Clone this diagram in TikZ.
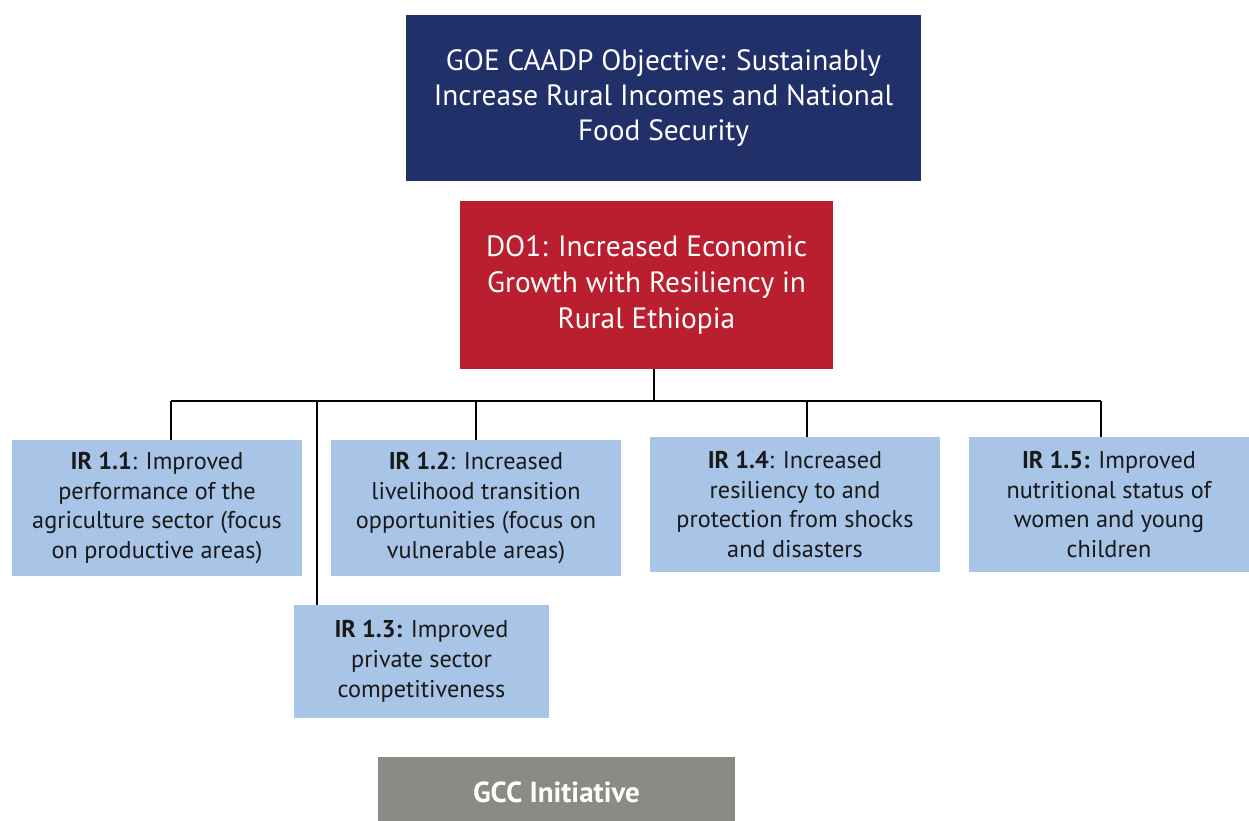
\documentclass[tikz,border=0pt]{standalone}
\usepackage{fontspec}
\setmainfont{PT Sans}
\usetikzlibrary{calc}
\definecolor{goeblue}{HTML}{22306A}
\definecolor{dored}{HTML}{BA1F2F}
\definecolor{irblue}{HTML}{A8C4E6}
\definecolor{gccgray}{HTML}{8B8A85}
\begin{document}
\begin{tikzpicture}[x=0.02cm, y=-0.02cm,
        goal/.style={rectangle, fill=goeblue, text=white, align=center, font={\fontsize{16.7}{20}\selectfont}, minimum width=10.3cm, minimum height=3.32cm},
        objective/.style={rectangle, fill=dored, text=white, align=center, font={\fontsize{16.7}{20.5}\selectfont}, minimum width=7.46cm, minimum height=3.36cm},
        result/.style={rectangle, fill=irblue, text=black!90, align=center, font={\fontsize{13.8}{17}\selectfont}, minimum width=5.8cm, minimum height=2.72cm, inner sep=0pt},
        initiative/.style={rectangle, fill=gccgray, text=white, font={\bfseries\fontsize{16.5}{19}\selectfont}, minimum width=7.14cm, minimum height=1.4cm},
        link/.style={line width=1.3pt, black}
    ]
        \useasboundingbox (0,0) rectangle (1249,821);
        \clip (0,0) rectangle (1249,821);

        % Obiettivi
        \node[goal] (goe) at (663.5,98) {GOE CAADP Objective: Sustainably\\Increase Rural Incomes and National\\Food Security};
        \node[objective] (do) at (646.5,285) {DO1: Increased Economic\\Growth with Resiliency in\\Rural Ethiopia};

        % Risultati intermedi
        \node[result] (ir11) at (157,508) {\textbf{IR 1.1}: Improved\\performance of the\\agriculture sector (focus\\on productive areas)};
        \node[result] (ir12) at (476,508) {\textbf{IR 1.2}: Increased\\livelihood transition\\opportunities (focus on\\vulnerable areas)};
        \node[result, minimum width=5.1cm, minimum height=2.26cm] (ir13) at (421.5,661.5) {\textbf{IR 1.3:} Improved\\private sector\\competitiveness};
        \node[result, minimum height=2.7cm] (ir14) at (795,504.5) {\textbf{IR 1.4}: Increased\\resiliency to and\\protection from shocks\\and disasters};
        \node[result, minimum width=5.6cm, minimum height=2.7cm] (ir15) at (1109,504.5) {\textbf{IR 1.5:} Improved\\nutritional status of\\women and young\\children};

        % Iniziativa
        \node[initiative] (gcc) at (556.5,792) {GCC Initiative};

        % Connessioni
        \coordinate (bus) at (654,401);
        \coordinate (d11) at ($(ir11.north)+(14,0)$);
        \coordinate (d12) at (ir12.north);
        \coordinate (d13) at ($(ir13.north west)+(23,0)$);
        \coordinate (d14) at ($(ir14.north)+(12,0)$);
        \coordinate (d15) at ($(ir15.north)+(-8,0)$);
        \draw[link] (do.south -| bus) -- (bus);
        \draw[link] (d11 |- bus) -- (d15 |- bus);
        \foreach \d in {d11,d12,d13,d14,d15}
            \draw[link] (\d |- bus) -- (\d);
    \end{tikzpicture}
\end{document}
